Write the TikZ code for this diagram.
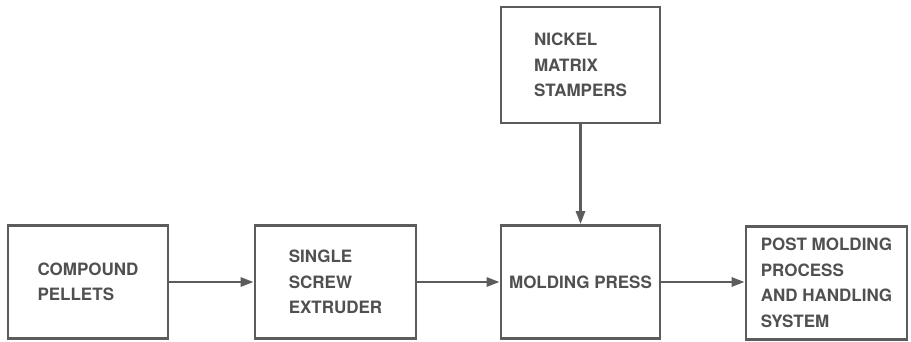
\documentclass[tikz,border=0pt]{standalone}
\usepackage{fontspec}
\setmainfont{TeX Gyre Heros}
\usepackage{tikz}
\usetikzlibrary{arrows.meta,positioning}
\definecolor{pgline}{HTML}{5C5C5C}
\definecolor{pgtext}{HTML}{505050}

\begin{document}
\begin{tikzpicture}[x=1pt,y=-1pt,
  blk/.style={draw=pgline,line width=2.7pt,minimum width=160pt,minimum height=113pt,
    align=left,text=pgtext,inner sep=0pt,font=\fontsize{17}{25.5}\selectfont\bfseries},
  flow/.style={pgline,line width=2.7pt,-{Triangle[length=13pt,width=9pt]}}]
\useasboundingbox (0,0) rectangle (911,341);
\node[blk] (pellets) at (88,282) {COMPOUND\\PELLETS};
\node[blk,minimum width=161pt] (extruder) at (335.5,282) {SINGLE\\SCREW\\EXTRUDER};
\node[blk,minimum width=159pt] (press) at (580.5,282) {MOLDING PRESS};
\node[blk,minimum width=161pt] (post) at (826.5,283) {POST MOLDING\\PROCESS\\AND HANDLING\\SYSTEM};
\node[blk,minimum width=159pt,minimum height=116pt] (stampers) at (580.5,65) {NICKEL\\MATRIX\\STAMPERS};
\draw[flow] (pellets) -- (extruder);
\draw[flow] (extruder) -- (press);
\draw[flow] (press.east) -- (post.west |- press.east);
\draw[flow] (stampers) -- (press);
\end{tikzpicture}
\end{document}
